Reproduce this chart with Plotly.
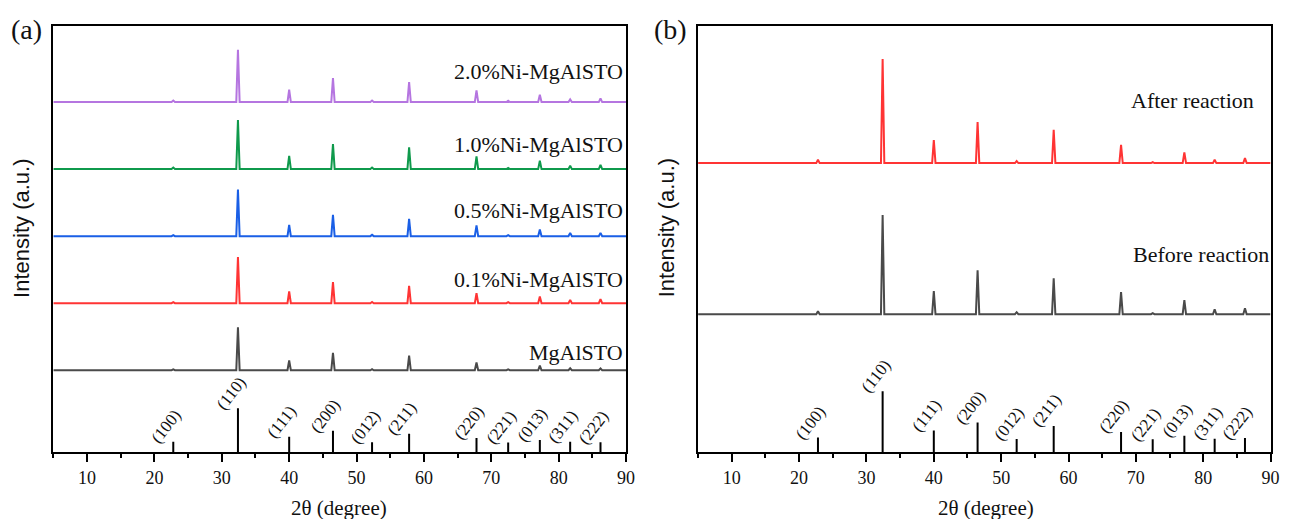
import plotly.graph_objects as go

# ---------------- data ----------------
peak_pos = [22.8, 32.4, 40.0, 46.5, 52.3, 57.8, 67.8, 72.5, 77.2, 81.7, 86.2]
hkl = ["(100)", "(110)", "(111)", "(200)", "(012)", "(211)", "(220)", "(221)", "(013)", "(311)", "(222)"]

# panel (a) peak heights (a.u.) and vertical offsets
names_a = ["MgAlSTO", "0.1%Ni-MgAlSTO", "0.5%Ni-MgAlSTO", "1.0%Ni-MgAlSTO", "2.0%Ni-MgAlSTO"]
h_mgalsto = [0.8, 43, 9.7, 17.3, 1.0, 14.7, 7.7, 0.8, 4.7, 2.0, 1.7]
h_ni01 = [1.0, 46, 11.7, 21, 1.2, 17.3, 10, 1.0, 6.7, 3.3, 4.0]
h_ni05 = [1.0, 46.7, 11.3, 21.3, 1.3, 17.3, 10.7, 1.0, 6.7, 3.3, 3.3]
h_ni10 = [1.5, 49, 13.3, 25, 1.5, 21.7, 12.7, 1.2, 8.3, 3.3, 4.3]
h_ni20 = [1.5, 52.3, 12.3, 24, 1.5, 20, 11.7, 1.2, 7.3, 2.7, 3.7]
offsets_a = [82, 149, 216, 283, 350]
label_y_a = [100, 173, 242, 308, 381]
label_x_a = 89.9
colors_a = ["#4a4a4a", "#ff3434", "#1a5fe6", "#0f9a4c", "#b575e0"]
ref_a = [10.5, 44, 15.5, 21.5, 10, 18.5, 14.3, 9.7, 12.4, 10.5, 10]

# panel (b)
names_b = ["Before reaction", "After reaction"]
h_before = [3, 99, 23, 44, 2, 36, 22, 1, 14, 5, 6]
h_after = [3.3, 104, 23, 41, 2, 33.3, 18.3, 1, 10.7, 3.3, 5]
offsets_b = [138, 289]
label_y_b = [198, 352]
label_x_b = [90.0, 87.9]
colors_b = ["#4a4a4a", "#ff3434"]
ref_b = [14.7, 61, 21.7, 29.8, 13.3, 26.3, 20.3, 13, 16.6, 13.6, 14.3]

x_range = [5, 90]
x_ticks = [10, 20, 30, 40, 50, 60, 70, 80, 90]

# ---------------- helpers ----------------
HW = 0.25  # half width of a peak (deg)


def profile(heights, offset):
    xs, ys = [x_range[0]], [offset]
    for p, h in zip(peak_pos, heights):
        xs += [p - HW, p, p + HW]
        ys += [offset, offset + h, offset]
    xs.append(x_range[1])
    ys.append(offset)
    return xs, ys


def sticks(heights):
    xs, ys = [], []
    for p, h in zip(peak_pos, heights):
        xs += [p, p, None]
        ys += [0, h, None]
    return xs, ys


fig = go.Figure()

serif = "Liberation Serif, Times New Roman, serif"
sans = "Liberation Sans, Arial, sans-serif"

# panel (a)
for hs, off, col, nm in zip([h_mgalsto, h_ni01, h_ni05, h_ni10, h_ni20], offsets_a, colors_a, names_a):
    xs, ys = profile(hs, off)
    fig.add_trace(go.Scatter(x=xs, y=ys, mode="lines", line=dict(color=col, width=2),
                             name=nm, xaxis="x", yaxis="y", showlegend=False))
xs, ys = sticks(ref_a)
fig.add_trace(go.Scatter(x=xs, y=ys, mode="lines", line=dict(color="black", width=2),
                         xaxis="x", yaxis="y", showlegend=False))

# panel (b)
for hs, off, col, nm in zip([h_before, h_after], offsets_b, colors_b, names_b):
    xs, ys = profile(hs, off)
    fig.add_trace(go.Scatter(x=xs, y=ys, mode="lines", line=dict(color=col, width=2),
                             name=nm, xaxis="x2", yaxis="y2", showlegend=False))
xs, ys = sticks(ref_b)
fig.add_trace(go.Scatter(x=xs, y=ys, mode="lines", line=dict(color="black", width=2),
                         xaxis="x2", yaxis="y2", showlegend=False))

annotations = []
# sample labels
for nm, yy in zip(names_a, label_y_a):
    annotations.append(dict(x=label_x_a, y=yy, xref="x", yref="y", text=nm, showarrow=False,
                            xanchor="right", yanchor="middle",
                            font=dict(family=serif, size=22, color="#111")))
for nm, yy, xx in zip(names_b, label_y_b, label_x_b):
    annotations.append(dict(x=xx, y=yy, xref="x2", yref="y2", text=nm, showarrow=False,
                            xanchor="right", yanchor="middle",
                            font=dict(family=serif, size=22, color="#111")))
# hkl labels
for xr, yr, ref in [("x", "y", ref_a), ("x2", "y2", ref_b)]:
    for p, h, t in zip(peak_pos, ref, hkl):
        annotations.append(dict(x=p, y=h, xref=xr, yref=yr, text=t, showarrow=False,
                                textangle=-52, xanchor="center", yanchor="middle",
                                xshift=-7, yshift=15,
                                font=dict(family=serif, size=17, color="#111")))
# axis titles / panel letters
for px in [0.0171, 0.5213]:
    annotations.append(dict(x=px, y=0.5607, xref="paper", yref="paper", text="Intensity (a.u.)",
                            showarrow=False, textangle=-90, xanchor="center", yanchor="middle",
                            font=dict(family=sans, size=22, color="#111")))
for px in [0.2650, 0.7703]:
    annotations.append(dict(x=px, y=0.0212, xref="paper", yref="paper", text="2θ (degree)",
                            showarrow=False, xanchor="center", yanchor="middle",
                            font=dict(family=serif, size=21, color="#111")))
for px, t in [(0.0209, "(a)"), (0.5237, "(b)")]:
    annotations.append(dict(x=px, y=0.944, xref="paper", yref="paper", text=t,
                            showarrow=False, xanchor="center", yanchor="middle",
                            font=dict(family=serif, size=28, color="#111")))

xaxis_common = dict(range=x_range, tickvals=x_ticks, ticks="outside", ticklen=8, tickwidth=1.5,
                    tickcolor="black", showline=True, linecolor="black", linewidth=1.5, mirror=True,
                    showgrid=False, zeroline=False,
                    tickfont=dict(family=serif, size=18, color="#111"),
                    minor=dict(dtick=5, tick0=5, ticks="outside", ticklen=4, tickwidth=1.5,
                               tickcolor="black", showgrid=False))
yaxis_common = dict(range=[0, 426], showline=True, linecolor="black", linewidth=1.5, mirror=True,
                    showticklabels=False, ticks="", showgrid=False, zeroline=False)

y_dom = [1 - 452.3 / 519, 1 - 26 / 519]
fig.update_layout(
    width=1289, height=519,
    margin=dict(l=0, r=0, t=0, b=0),
    paper_bgcolor="white", plot_bgcolor="white",
    xaxis=dict(domain=[53.7 / 1289, 630.5 / 1289], anchor="y", **xaxis_common),
    yaxis=dict(domain=y_dom, anchor="x", **yaxis_common),
    xaxis2=dict(domain=[703 / 1289, 1279.5 / 1289], anchor="y2", **xaxis_common),
    yaxis2=dict(domain=y_dom, anchor="x2", **yaxis_common),
    annotations=annotations,
)

fig.write_html("out.html")
